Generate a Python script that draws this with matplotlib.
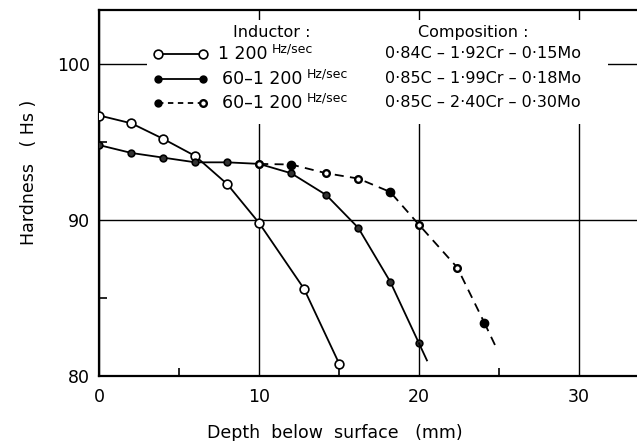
import matplotlib.pyplot as plt
from matplotlib.patches import Rectangle

# Hardness profiles vs depth below surface
depth_1200 = [0, 2, 4, 6, 8, 10, 12.8, 15.0]
hard_1200 = [96.7, 96.2, 95.2, 94.1, 92.3, 89.8, 85.6, 80.8]

depth_60_1200 = [0, 2, 4, 6, 8, 10, 12, 14.2, 16.2, 18.2, 20.0]
hard_60_1200 = [94.8, 94.3, 94.0, 93.7, 93.7, 93.6, 93.0, 91.6, 89.5, 86.05, 82.1]
tail_60_1200_x = [20.0, 20.5]
tail_60_1200_y = [82.1, 81.0]

depth_60_1200_b = [10, 12, 14.2, 16.2, 18.2, 20.0, 22.4, 24.1]
hard_60_1200_b = [93.6, 93.56, 93.0, 92.66, 91.8, 89.7, 86.95, 83.4]
solid_pts_b = [False, True, False, False, True, False, False, True]
tail_60_1200_b_x = [24.1, 24.8]
tail_60_1200_b_y = [83.4, 81.9]

inductor_labels = ['1 200', '60\u20131 200', '60\u20131 200']
compositions = ['0\u00b784C \u2013 1\u00b792Cr \u2013 0\u00b715Mo',
                '0\u00b785C \u2013 1\u00b799Cr \u2013 0\u00b718Mo',
                '0\u00b785C \u2013 2\u00b740Cr \u2013 0\u00b730Mo']

plt.rcParams['font.family'] = ['DejaVu Sans']

fig = plt.figure(figsize=(6.37, 4.41), dpi=100)
ax = fig.add_axes([0.1562, 0.1474, 0.8438, 0.830])
ax.set_xlim(0, 33.65)
ax.set_ylim(80, 103.47)


def px(x, y):
    # pixel position in the figure -> axes fraction
    return (x - 99.5) / 537.5, (376 - y) / 366


ax.spines['right'].set_visible(False)
for s in ['left', 'bottom', 'top']:
    ax.spines[s].set_linewidth(1.6)

ax.set_xticks([0, 10, 20, 30])
ax.set_yticks([80, 90, 100])
ax.set_xticks([5, 15, 25], minor=True)
ax.set_yticks([85, 95], minor=True)
ax.tick_params(which='major', length=0, labelsize=12.5)
ax.tick_params(axis='x', which='major', pad=9)
ax.tick_params(axis='y', which='major', pad=7)
ax.tick_params(which='minor', direction='in', length=6, width=1.2)
ax.set_axisbelow(True)
ax.grid(True, which='major', color='black', linewidth=1.0)

# blank area behind the key
x0, y0 = px(147, 124)
x1, y1 = px(608, 20)
ax.add_patch(Rectangle((x0, y0), x1 - x0, y1 - y0, transform=ax.transAxes,
                       facecolor='white', edgecolor='none', zorder=1))

ax.set_xlabel('Depth  below  surface   (mm)', fontsize=12.5)
ax.xaxis.set_label_coords(0.438, -0.13)
ax.set_ylabel('Hardness   ( Hs )', fontsize=12.5)
ax.yaxis.set_label_coords(-0.115, 0.555)

# curves
ax.plot(depth_1200, hard_1200, '-', color='black', lw=1.3, marker='o',
        ms=6.3, mfc='white', mec='black', mew=1.2, zorder=3)
ax.plot(depth_60_1200, hard_60_1200, '-', color='black', lw=1.3, marker='o',
        ms=4.8, mfc='0.2', mec='black', mew=1.2, zorder=3)
ax.plot(tail_60_1200_x, tail_60_1200_y, '-', color='black', lw=1.3, zorder=3)
ax.plot(depth_60_1200_b, hard_60_1200_b, color='black', lw=1.3,
        dashes=(5, 3.5), zorder=3)
ax.plot(tail_60_1200_b_x, tail_60_1200_b_y, color='black', lw=1.3,
        dashes=(5, 3.5), zorder=3)
for xv, yv, solid in zip(depth_60_1200_b, hard_60_1200_b, solid_pts_b):
    ax.plot(xv, yv, 'o', ms=6 if solid else 4.8,
            mfc='black' if solid else 'white', mec='black',
            mew=1.0 if solid else 1.7, zorder=4)

# key
tf = ax.transAxes
ax.text(*px(233, 33), 'Inductor :', transform=tf, fontsize=11.5, va='center')
ax.text(*px(418, 33), 'Composition :', transform=tf, fontsize=11.5,
        va='center')
rows_y = [54, 79, 103]
label_x = [218, 222, 222]
key_ls = ['-', '-', (0, (3, 2.5))]
left_face = ['white', 'black', 'black']
right_face = ['white', 'black', 'white']
left_ms = [6.3, 4.8, 4.8]
right_mew = [1.2, 1.2, 1.7]
for i, yy in enumerate(rows_y):
    xa, ya = px(158, yy)
    xb, _ = px(203, yy)
    ax.plot([xa, xb], [ya, ya], transform=tf, color='black', lw=1.3,
            ls=key_ls[i], zorder=3, clip_on=False)
    ax.plot([xa], [ya], 'o', transform=tf, ms=left_ms[i], mfc=left_face[i],
            mec='black', mew=1.2, zorder=4, clip_on=False)
    ax.plot([xb], [ya], 'o', transform=tf, ms=left_ms[i], mfc=right_face[i],
            mec='black', mew=right_mew[i], zorder=4, clip_on=False)
    lab = ax.text(*px(label_x[i], yy), inductor_labels[i], transform=tf,
                  fontsize=12.5, va='center', zorder=5)
    ax.annotate('Hz/sec', xy=(1, 0.75), xycoords=lab, xytext=(3, 0),
                textcoords='offset points', fontsize=9, va='center',
                zorder=5)
    ax.text(*px(385, yy), compositions[i], transform=tf, fontsize=11.5,
            va='center', zorder=5)

fig.savefig('out.png', dpi=100)
